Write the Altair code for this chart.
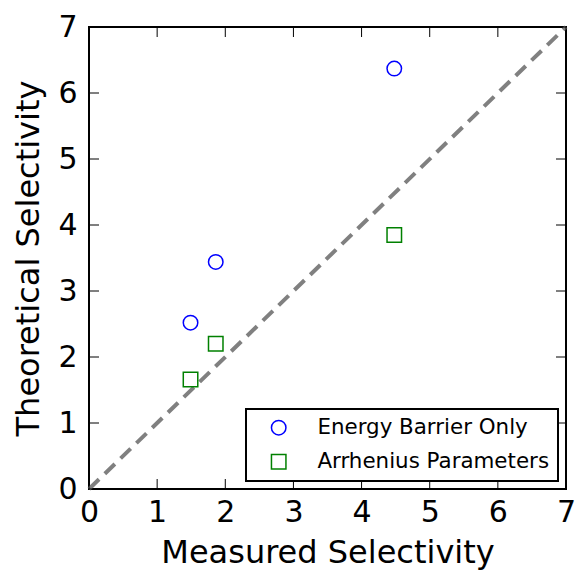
import altair as alt
import pandas as pd

measured = [1.49, 1.86, 4.48]
energy_barrier = [2.52, 3.44, 6.37]
arrhenius = [1.66, 2.20, 3.85]
series_names = ["Energy Barrier Only", "Arrhenius Parameters"]
ticks = [0, 1, 2, 3, 4, 5, 6, 7]
diag = [0, 7]

W, H = 477, 462

pts = pd.DataFrame({
    "x": measured * 2,
    "y": energy_barrier + arrhenius,
    "series": [series_names[0]] * 3 + [series_names[1]] * 3,
})
diag_df = pd.DataFrame({"x": diag, "y": diag})
tick_df = pd.DataFrame({"t": ticks})

xs = alt.Scale(domain=[0, 7], nice=False, zero=False)
ys = alt.Scale(domain=[0, 7], nice=False, zero=False)

xaxis = alt.Axis(values=ticks, format="d", title="Measured Selectivity", domain=False, ticks=False,
                 grid=False, labelFontSize=30, titleFontSize=32, labelPadding=8, titlePadding=10,
                 labelColor="black", titleColor="black", titleFontWeight="normal", labelFlush=False)
yaxis = alt.Axis(values=ticks, format="d", title="Theoretical Selectivity", domain=False, ticks=False,
                 grid=False, labelFontSize=30, titleFontSize=32, labelPadding=12, titlePadding=12,
                 labelColor="black", titleColor="black", titleFontWeight="normal", labelFlush=False)

line = alt.Chart(diag_df).mark_line(color="#808080", strokeWidth=4, strokeDash=[14, 8]).encode(
    x=alt.X("x:Q", scale=xs, axis=xaxis),
    y=alt.Y("y:Q", scale=ys, axis=yaxis),
)

points = alt.Chart(pts).mark_point(filled=False, strokeWidth=1.5, size=210, opacity=1).encode(
    x=alt.X("x:Q", scale=xs),
    y=alt.Y("y:Q", scale=ys),
    color=alt.Color("series:N", scale=alt.Scale(domain=series_names, range=["blue", "green"]),
                    legend=alt.Legend(title=None, orient="none", legendX=157, legendY=382,
                                      fillColor="white",
                                      padding=8, labelFontSize=21.4, labelColor="black",
                                      labelOffset=28, rowPadding=11, symbolSize=210,
                                      symbolOffset=14, labelLimit=400,
                                      symbolStrokeWidth=1.5, offset=0)),
    shape=alt.Shape("series:N", scale=alt.Scale(domain=series_names, range=["circle", "square"])),
)

xt_bottom = alt.Chart(tick_df).mark_rule(color="black", strokeWidth=1).encode(
    x=alt.X("t:Q", scale=xs), y=alt.value(H), y2=alt.value(H - 10))
xt_top = alt.Chart(tick_df).mark_rule(color="black", strokeWidth=1).encode(
    x=alt.X("t:Q", scale=xs), y=alt.value(0), y2=alt.value(10))
yt_left = alt.Chart(tick_df).mark_rule(color="black", strokeWidth=1).encode(
    y=alt.Y("t:Q", scale=ys), x=alt.value(0), x2=alt.value(10))
yt_right = alt.Chart(tick_df).mark_rule(color="black", strokeWidth=1).encode(
    y=alt.Y("t:Q", scale=ys), x=alt.value(W), x2=alt.value(W - 10))

chart = alt.layer(line, xt_bottom, xt_top, yt_left, yt_right, points).properties(
    width=W, height=H, autosize="none",
    padding={"left": 89, "top": 27, "right": 9, "bottom": 86},
).configure(font="DejaVu Sans").configure_view(stroke="black", strokeWidth=2).configure_legend(
    strokeColor="black", strokeWidth=2, cornerRadius=0)

chart.save("out.html", embed_options={"renderer": "svg", "actions": False})
